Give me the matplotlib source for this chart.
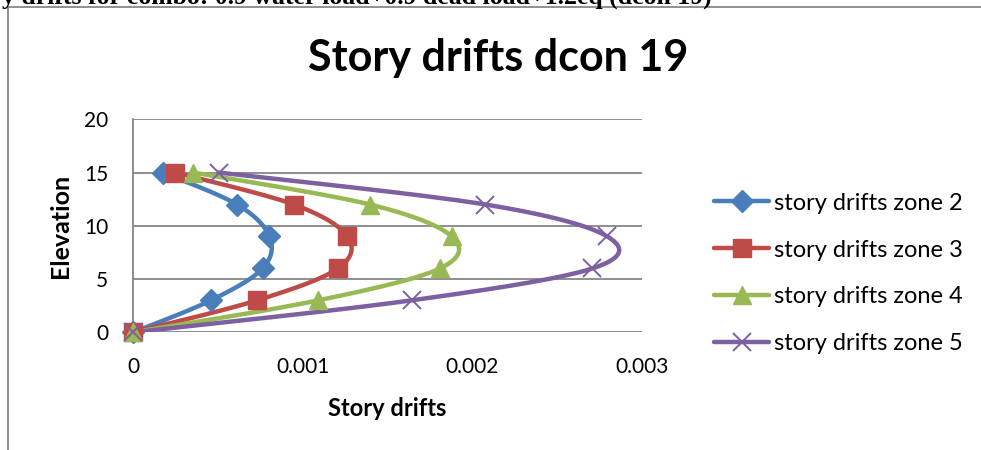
import numpy as np
import matplotlib
matplotlib.use("Agg")
import matplotlib.pyplot as plt
from matplotlib.lines import Line2D

# ---- data ----
elevation = [0, 3, 6, 9, 12, 15]
zone2 = [0, 0.000458, 0.000763, 0.000803, 0.000612, 0.000174]
zone3 = [0, 0.000730, 0.001207, 0.001263, 0.000947, 0.000247]
zone4 = [0, 0.001091, 0.001809, 0.001878, 0.001396, 0.000355]
zone5 = [0, 0.001641, 0.002708, 0.002795, 0.002077, 0.000503]
series_names = ["story drifts zone 2", "story drifts zone 3",
                "story drifts zone 4", "story drifts zone 5"]
x_ticks = [0, 0.001, 0.002, 0.003]
x_tick_labels = ["0", "0.001", "0.002", "0.003"]
y_ticks = [0, 5, 10, 15, 20]

colors = ["#4A7EBB", "#BE4B48", "#98B954", "#7D60A0"]
markers = ["D", "s", "^", "x"]
msizes = [11, 13, 13, 13]

FONT = ["Lato", "DejaVu Sans"]
plt.rcParams["font.family"] = FONT


def smooth(xs, ys, n=30):
    """Excel-style smoothed line (cubic Bezier, Catmull-Rom tangents)."""
    P = np.column_stack([xs, ys]).astype(float)
    m = len(P)
    out = []
    for i in range(m - 1):
        p0 = P[i - 1] if i > 0 else P[i]
        p1 = P[i]
        p2 = P[i + 1]
        p3 = P[i + 2] if i + 2 < m else P[i + 1]
        c1 = p1 + (p2 - p0) / 6.0
        c2 = p2 - (p3 - p1) / 6.0
        t = np.linspace(0, 1, n)[:, None]
        seg = ((1 - t) ** 3) * p1 + 3 * ((1 - t) ** 2) * t * c1 + 3 * (1 - t) * t ** 2 * c2 + t ** 3 * p2
        out.append(seg if i == 0 else seg[1:])
    s = np.vstack(out)
    return s[:, 0], s[:, 1]


fig = plt.figure(figsize=(9.81, 4.5), dpi=100)
ax = fig.add_axes([133.3 / 981, 1 - 332.3 / 450, (642 - 133.3) / 981, (332.3 - 119.3) / 450])

all_series = [zone2, zone3, zone4, zone5]
handles = []
for vals, c, mk, ms, name in zip(all_series, colors, markers, msizes, series_names):
    sx, sy = smooth(vals, elevation)
    ax.plot(sx, sy, color=c, lw=3.2, solid_capstyle="round", zorder=3)
    if mk == "x":
        ax.plot(vals, elevation, linestyle="none", marker=mk, ms=ms, mew=1.4,
                color=c, zorder=4, clip_on=False)
    else:
        ax.plot(vals, elevation, linestyle="none", marker=mk, ms=ms,
                color=c, mec=c, zorder=4, clip_on=False)
    h = Line2D([], [], color=c, lw=3.2, marker=mk, ms=ms,
               mew=1.4 if mk == "x" else 1.0, mec=c, solid_capstyle="round")
    handles.append(h)

ax.set_xlim(0, 0.003)
ax.set_ylim(0, 20)
ax.set_xticks(x_ticks)
ax.set_xticklabels(x_tick_labels)
ax.set_yticks(y_ticks)
ax.tick_params(length=0, labelsize=15, colors="black")
ax.tick_params(axis="x", pad=18)
ax.tick_params(axis="y", pad=18)
ax.yaxis.grid(True, color="#868686", lw=1.3)
ax.set_axisbelow(True)
for s in ["top", "right", "bottom"]:
    ax.spines[s].set_visible(False)
ax.spines["left"].set_color("#868686")
ax.spines["left"].set_linewidth(1.3)

ax.set_xlabel("Story drifts", fontsize=17, fontweight="bold", labelpad=14)
ax.set_ylabel("Elevation", fontsize=18, fontweight="bold", labelpad=9)

fig.text(498 / 981, 1 - 58 / 450, "Story drifts dcon 19", ha="center", va="center",
         fontsize=31, fontweight="bold")

fig.legend(handles=handles, labels=series_names, loc="center left",
           bbox_to_anchor=(705 / 981, 1 - 273.5 / 450), frameon=False,
           fontsize=17, handlelength=2.33, handletextpad=0.18, labelspacing=1.1,
           borderaxespad=0)

# partly visible caption above the chart frame
fig.text(2 / 981, 1 - 4 / 450, "y drifts for combo: 0.9 water load+0.9 dead load+1.2eq (dcon 19)",
         ha="left", va="baseline", fontsize=18.5, fontweight="bold",
         family=["Liberation Serif", "DejaVu Serif"])

# chart frame lines
fig.add_artist(Line2D([8 / 981, 8 / 981], [0, 1 - 7 / 450], color="#888888", lw=1.3,
                      transform=fig.transFigure))
fig.add_artist(Line2D([8 / 981, 1], [1 - 7 / 450, 1 - 7 / 450], color="#888888", lw=1.3,
                      transform=fig.transFigure))

fig.savefig("out.png", dpi=100, facecolor="white")
